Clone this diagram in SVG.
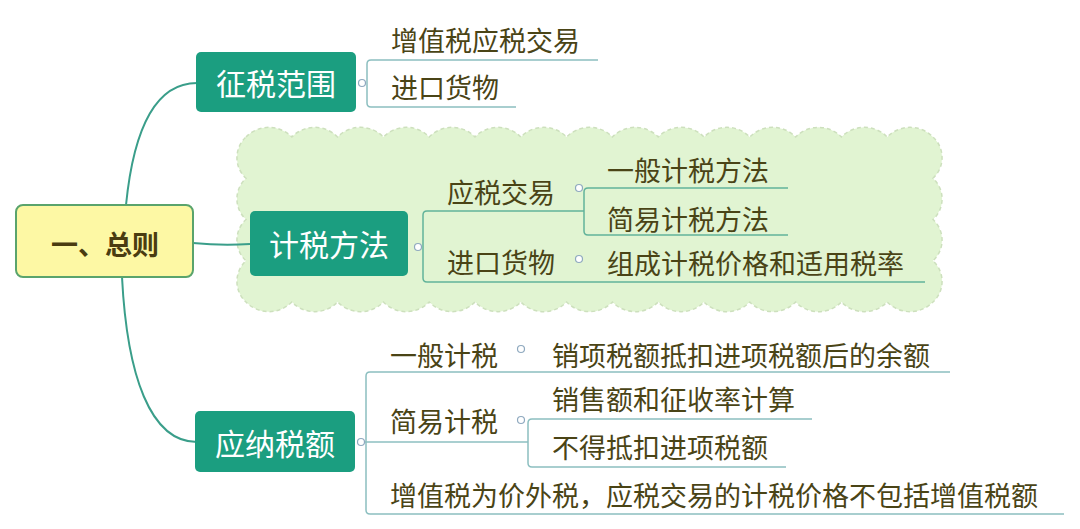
<svg xmlns="http://www.w3.org/2000/svg" width="1080" height="529" viewBox="0 0 1080 529">
<style>
.main{fill:#1b9e80;}
.mt{font-family:"Noto Sans CJK SC","Noto Sans",sans-serif;font-size:30px;fill:#ffffff;text-anchor:middle;dominant-baseline:central;}
.t{font-family:"Noto Sans CJK SC","Noto Sans",sans-serif;font-size:27px;fill:#4a4416;dominant-baseline:central;}
.con{fill:none;stroke:#3a9e8a;stroke-width:2;}
.ln{fill:none;stroke:#8cbfc0;stroke-width:1.5;}
.lg{fill:none;stroke:#62b39a;stroke-width:1.5;}
.dot{fill:#ffffff;stroke:#8fa9bf;stroke-width:1.2;}
</style>
<rect width="1080" height="529" fill="#ffffff"/>
<g id="cloud">
<path d="M246,137 a32,32 0 0 1 45.8,0 a32,32 0 0 1 45.8,0 a32,32 0 0 1 45.8,0 a32,32 0 0 1 45.8,0 a32,32 0 0 1 45.8,0 a32,32 0 0 1 45.8,0 a32,32 0 0 1 45.8,0 a32,32 0 0 1 45.8,0 a32,32 0 0 1 45.8,0 a32,32 0 0 1 45.8,0 a32,32 0 0 1 45.8,0 a32,32 0 0 1 45.8,0 a32,32 0 0 1 45.8,0 a32,32 0 0 1 45.8,0 a32,32 0 0 1 45.8,0 a28,28 0 0 1 0,41.25 a28,28 0 0 1 0,41.25 a28,28 0 0 1 0,41.25 a28,28 0 0 1 0,41.25 a32,32 0 0 1 -45.8,0 a32,32 0 0 1 -45.8,0 a32,32 0 0 1 -45.8,0 a32,32 0 0 1 -45.8,0 a32,32 0 0 1 -45.8,0 a32,32 0 0 1 -45.8,0 a32,32 0 0 1 -45.8,0 a32,32 0 0 1 -45.8,0 a32,32 0 0 1 -45.8,0 a32,32 0 0 1 -45.8,0 a32,32 0 0 1 -45.8,0 a32,32 0 0 1 -45.8,0 a32,32 0 0 1 -45.8,0 a32,32 0 0 1 -45.8,0 a32,32 0 0 1 -45.8,0 a28,28 0 0 1 0,-41.25 a28,28 0 0 1 0,-41.25 a28,28 0 0 1 0,-41.25 a28,28 0 0 1 0,-41.25 Z" fill="#e1f4d2" stroke="#cde0bd" stroke-width="1.5" stroke-dasharray="4 3"/>
</g>
<g id="connectors">
<path class="con" d="M126,205 C133,135 153,83 197,83"/>
<path class="con" d="M122,277 C127,375 150,442 197,442"/>
<path class="con" d="M193,243 Q222,246 250,244"/>
<path class="ln" d="M598,60 H371 Q367,60 367,64 V103 Q367,107 371,107 H516"/>
<path class="lg" d="M584,211 H427 Q423,211 423,215 V278 Q423,282 427,282 H925"/>
<path class="lg" d="M788,188 H588 Q584,188 584,192 V231 Q584,235 588,235 H788"/>
<path class="ln" d="M950,372 H370 Q366,372 366,376 V510 Q366,514 370,514 H1064"/>
<path class="ln" d="M361,442 H528"/>
<path class="ln" d="M812,419 H532 Q528,419 528,423 V463 Q528,467 532,467 H786"/>
<circle class="dot" cx="362" cy="83" r="3.5"/>
<circle class="dot" cx="418" cy="247" r="3.5"/>
<circle class="dot" cx="579" cy="188" r="3.5"/>
<circle class="dot" cx="579" cy="259" r="3.5"/>
<circle class="dot" cx="361" cy="442" r="3.5"/>
<circle class="dot" cx="521" cy="349" r="3.5"/>
<circle class="dot" cx="521" cy="420" r="3.5"/>
</g>
<g id="root">
<rect x="16" y="205" width="177" height="72" rx="7" fill="#fdf8a4" stroke="#5aa46c" stroke-width="2"/>
<text x="105" y="243" font-family="'Noto Sans CJK SC','Noto Sans',sans-serif" font-size="27" font-weight="bold" fill="#4a3c10" text-anchor="middle" dominant-baseline="central">一、总则</text>
</g>
<g id="n-zhengshui">
<rect class="main" x="196" y="52" width="160" height="60" rx="5"/>
<text class="mt" x="276" y="82">征税范围</text>
</g>
<g id="n-zhengshui-1"><text class="t" x="391" y="39">增值税应税交易</text></g>
<g id="n-zhengshui-2"><text class="t" x="391" y="86">进口货物</text></g>
<g id="n-jishui">
<rect class="main" x="250" y="211" width="158" height="65" rx="5"/>
<text class="mt" x="329" y="243">计税方法</text>
</g>
<g id="n-jishui-1"><text class="t" x="447" y="191">应税交易</text></g>
<g id="n-jishui-1a"><text class="t" x="607" y="169">一般计税方法</text></g>
<g id="n-jishui-1b"><text class="t" x="607" y="218">简易计税方法</text></g>
<g id="n-jishui-2"><text class="t" x="447" y="261">进口货物</text></g>
<g id="n-jishui-2a"><text class="t" x="607" y="262">组成计税价格和适用税率</text></g>
<g id="n-yingna">
<rect class="main" x="195" y="411" width="160" height="61" rx="5"/>
<text class="mt" x="275" y="442">应纳税额</text>
</g>
<g id="n-yingna-1"><text class="t" x="390" y="354">一般计税</text></g>
<g id="n-yingna-1a"><text class="t" x="552" y="354">销项税额抵扣进项税额后的余额</text></g>
<g id="n-yingna-2"><text class="t" x="390" y="420">简易计税</text></g>
<g id="n-yingna-2a"><text class="t" x="552" y="398">销售额和征收率计算</text></g>
<g id="n-yingna-2b"><text class="t" x="552" y="446">不得抵扣进项税额</text></g>
<g id="n-yingna-3"><text class="t" x="390" y="494">增值税为价外税，应税交易的计税价格不包括增值税额</text></g>
</svg>
